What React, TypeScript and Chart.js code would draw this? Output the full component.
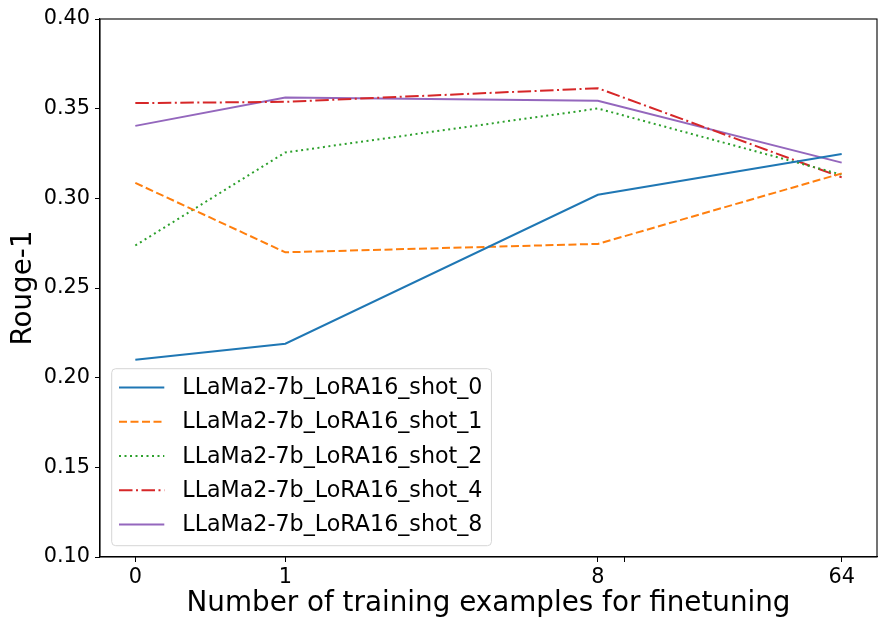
import { useEffect, useRef } from "react";
import { Chart, registerables, type Plugin } from "chart.js";

Chart.register(...registerables);

const xValues = [0, 1, 8, 64];
const xTicks = [0, 1, 8, 64];
const xMinorTicks = [10];
const seriesNames = [
    "LLaMa2-7b_LoRA16_shot_0",
    "LLaMa2-7b_LoRA16_shot_1",
    "LLaMa2-7b_LoRA16_shot_2",
    "LLaMa2-7b_LoRA16_shot_4",
    "LLaMa2-7b_LoRA16_shot_8",
];
const shot0 = [0.2100, 0.2189, 0.3020, 0.3247];
const shot1 = [0.3086, 0.2699, 0.2746, 0.3139];
const shot2 = [0.2737, 0.3256, 0.3501, 0.3132];
const shot4 = [0.3531, 0.3538, 0.3614, 0.3117];
const shot8 = [0.3404, 0.3562, 0.3544, 0.3199];
const yTicks = [0.10, 0.15, 0.20, 0.25, 0.30, 0.35, 0.40];

const colors = ["#1f77b4", "#ff7f0e", "#2ca02c", "#d62728", "#9467bd"];
const dashes: number[][] = [[], [8, 3.5], [2, 3.5], [13.5, 3.5, 2, 3.5], []];
const FONT = "'DejaVu Sans', sans-serif";

// matplotlib-style symlog, base 10, linthresh 2, linscale 1
const LT = 2;
const LS = 1 / (1 - 1 / 10);
const symlog = (x: number) => {
    const a = Math.abs(x);
    const v = a <= LT ? a * LS : LT * (LS + Math.log10(a / LT));
    return Math.sign(x) * v;
};
const symexp = (v: number) => {
    const a = Math.abs(v);
    const x = a <= LT * LS ? a / LS : LT * Math.pow(10, a / LT - LS);
    return Math.sign(v) * x;
};

const boxPlugin: Plugin = {
    id: "box",
    afterDraw(chart) {
        const { ctx, chartArea: a } = chart;
        ctx.save();
        ctx.strokeStyle = "#000";
        ctx.lineWidth = 1.1;
        ctx.strokeRect(a.left, a.top, a.right - a.left, a.bottom - a.top);
        ctx.restore();
    },
};

const legendPlugin: Plugin = {
    id: "innerLegend",
    afterDatasetsDraw(chart) {
        const { ctx, chartArea: a } = chart;
        ctx.save();
        ctx.font = `22.2px ${FONT}`;
        const textW = Math.max(...seriesNames.map(n => ctx.measureText(n).width));
        const rowH = 34.3;
        const w = 70.6 + textW + 9;
        const h = rowH * seriesNames.length + 5.5;
        const x0 = a.left + 11.7;
        const y0 = a.bottom - 11.3 - h;
        ctx.beginPath();
        ctx.roundRect(x0, y0, w, h, 4);
        ctx.fillStyle = "rgba(255,255,255,0.8)";
        ctx.fill();
        ctx.strokeStyle = "#d6d6d6";
        ctx.lineWidth = 1;
        ctx.stroke();
        chart.data.datasets.forEach((ds, i) => {
            const cy = y0 + 18.7 + i * rowH;
            ctx.beginPath();
            ctx.setLineDash(dashes[i]);
            ctx.strokeStyle = ds.borderColor as string;
            ctx.lineWidth = 2;
            ctx.moveTo(x0 + 7.3, cy);
            ctx.lineTo(x0 + 52.6, cy);
            ctx.stroke();
            ctx.setLineDash([]);
            ctx.fillStyle = "#000";
            ctx.textBaseline = "middle";
            ctx.fillText(ds.label as string, x0 + 70.6, cy + 1);
        });
        ctx.restore();
    },
};

export default function App() {
    const canvasRef = useRef<HTMLCanvasElement>(null);
    const chartRef = useRef<Chart | null>(null);

    useEffect(() => {
        document.body.style.margin = "0";
        if (!canvasRef.current) return;
        if (chartRef.current) chartRef.current.destroy();

        const series = [shot0, shot1, shot2, shot4, shot8];
        const fx = xValues.map(symlog);
        const span = Math.max(...fx) - Math.min(...fx);
        const xmin = Math.min(...fx) - 0.05 * span;
        const xmax = Math.max(...fx) + 0.05 * span;

        chartRef.current = new Chart(canvasRef.current, {
            type: "line",
            data: {
                datasets: series.map((vals, i) => ({
                    label: seriesNames[i],
                    data: xValues.map((x, j) => ({ x: symlog(x), y: vals[j] })),
                    borderColor: colors[i],
                    backgroundColor: colors[i],
                    borderWidth: 2,
                    borderDash: dashes[i],
                    pointRadius: 0,
                    tension: 0,
                    fill: false,
                })),
            },
            options: {
                animation: false,
                responsive: false,
                layout: { padding: { top: 19, right: 7, left: 0, bottom: 0 } },
                plugins: {
                    legend: { display: false },
                    tooltip: { enabled: false },
                },
                scales: {
                    x: {
                        type: "linear",
                        min: xmin,
                        max: xmax,
                        afterBuildTicks: (scale) => {
                            scale.ticks = [...xTicks, ...xMinorTicks].map(v => ({ value: symlog(v) }));
                        },
                        afterFit: (scale) => { scale.height = 73; },
                        grid: { drawOnChartArea: false, color: "#000", tickLength: 5, tickWidth: 1 },
                        border: { color: "#000", width: 1.1 },
                        ticks: {
                            color: "#000",
                            padding: 3,
                            maxRotation: 0,
                            autoSkip: false,
                            font: { family: FONT, size: 20.8 },
                            callback: (v) => {
                                const x = Math.round(symexp(Number(v)));
                                return xTicks.includes(x) ? String(x) : "";
                            },
                        },
                        title: {
                            display: true,
                            text: "Number of training examples for finetuning",
                            color: "#000",
                            font: { family: FONT, size: 27.8 },
                            padding: { top: 0, bottom: 10 },
                        },
                    },
                    y: {
                        min: yTicks[0],
                        max: yTicks[yTicks.length - 1],
                        afterBuildTicks: (scale) => {
                            scale.ticks = yTicks.map(v => ({ value: v }));
                        },
                        afterFit: (scale) => { scale.width = 100; },
                        grid: { drawOnChartArea: false, color: "#000", tickLength: 5, tickWidth: 1 },
                        border: { color: "#000", width: 1.1 },
                        ticks: {
                            color: "#000",
                            padding: 5,
                            font: { family: FONT, size: 20.8 },
                            callback: (v) => Number(v).toFixed(2),
                        },
                        title: {
                            display: true,
                            text: "Rouge-1",
                            color: "#000",
                            font: { family: FONT, size: 27.8 },
                            padding: { top: 7, bottom: 0 },
                        },
                    },
                },
            },
            plugins: [legendPlugin, boxPlugin],
        });

        return () => { chartRef.current?.destroy(); };
    }, []);

    return <canvas ref={canvasRef} width={884} height={630} />;
}
